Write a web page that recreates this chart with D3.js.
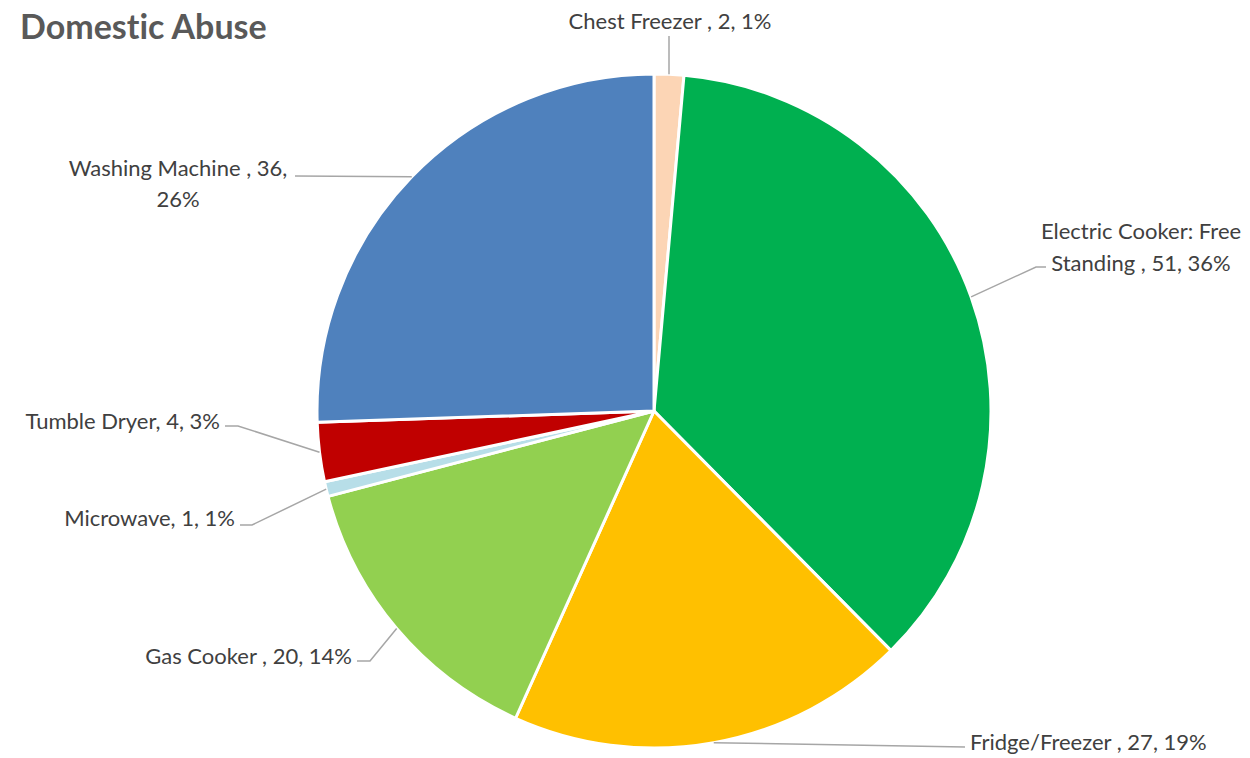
<!DOCTYPE html>
<html>
<head>
<meta charset="utf-8">
<script src="https://cdn.jsdelivr.net/npm/d3@7"></script>
<style>
  html, body { margin: 0; padding: 0; background: #fff; }
  svg { display: block; }
  text { font-family: Lato, "Open Sans", sans-serif; font-variant-ligatures: none; }
</style>
</head>
<body>
<svg id="chart" width="1250" height="758"></svg>
<script>
// Appliance categories, counts and their fill colours
const categories = ["Chest Freezer ", "Electric Cooker: Free Standing ", "Fridge/Freezer ", "Gas Cooker ", "Microwave", "Tumble Dryer", "Washing Machine "];
const counts = [2, 51, 27, 20, 1, 4, 36];
const colors = ["#fcd5b5", "#00b050", "#ffc000", "#92d050", "#b7dee8", "#c00000", "#4f81bd"];

// Label lines (text split as wrapped), text anchor and leader path elbows
const labelLayout = [
  { anchor: "middle", x: 670, y: 29, dy: 0, elbow: [[669, 36]] },
  { anchor: "middle", x: 1141, y: 239, dy: 32, elbow: [[1036, 267], [1046, 267]], lines: ["Electric Cooker: Free", "Standing , 51, 36%"] },
  { anchor: "start", x: 970, y: 750, dy: 0, elbow: [[965, 747]] },
  { anchor: "end", x: 352, y: 664, dy: 0, elbow: [[370, 661], [357, 661]] },
  { anchor: "end", x: 235, y: 526, dy: 0, elbow: [[252, 525], [240, 525]] },
  { anchor: "end", x: 220, y: 429, dy: 0, elbow: [[238, 426], [225, 426]] },
  { anchor: "middle", x: 178, y: 176, dy: 31, elbow: [[295, 176]], lines: ["Washing Machine , 36,", "26%"] }
];

const svg = d3.select("#chart");
const cx = 654, cy = 411, radius = 337;
const total = d3.sum(counts);

const data = categories.map((c, i) => ({ name: c, value: counts[i], color: colors[i], layout: labelLayout[i] }));

const pie = d3.pie().value(d => d.value).sort(null);
const arc = d3.arc().innerRadius(0).outerRadius(radius);
const arcs = pie(data);

const g = svg.append("g").attr("transform", `translate(${cx},${cy})`);

g.selectAll("path.slice")
  .data(arcs)
  .join("path")
  .attr("class", "slice")
  .attr("d", arc)
  .attr("fill", d => d.data.color)
  .attr("stroke", "#fff")
  .attr("stroke-width", 3)
  .attr("stroke-linejoin", "round");

// Leader lines: from slice edge at mid-angle to each label
const line = d3.line();
svg.selectAll("path.leader")
  .data(arcs)
  .join("path")
  .attr("class", "leader")
  .attr("d", d => {
    const a = (d.startAngle + d.endAngle) / 2;
    const p0 = [cx + radius * Math.sin(a), cy - radius * Math.cos(a)];
    return line([p0, ...d.data.layout.elbow]);
  })
  .attr("fill", "none")
  .attr("stroke", "#a6a6a6")
  .attr("stroke-width", 1.5);

// Data labels: "Category, value, percent"
const fmtPct = v => Math.round(v / total * 100) + "%";
svg.selectAll("text.label")
  .data(arcs)
  .join("text")
  .attr("class", "label")
  .attr("text-anchor", d => d.data.layout.anchor)
  .attr("fill", "#404040")
  .attr("font-size", 22)
  .each(function (d) {
    const L = d.data.layout;
    const lines = L.lines || [`${d.data.name}, ${d.data.value}, ${fmtPct(d.data.value)}`];
    d3.select(this).selectAll("tspan")
      .data(lines)
      .join("tspan")
      .attr("x", L.x)
      .attr("y", (t, i) => L.y + i * L.dy)
      .text(t => t);
  });

// Title
svg.append("text")
  .attr("x", 20)
  .attr("y", 39)
  .attr("fill", "#595959")
  .attr("font-size", 34)
  .attr("font-weight", "bold")
  .text("Domestic Abuse");
</script>
</body>
</html>
